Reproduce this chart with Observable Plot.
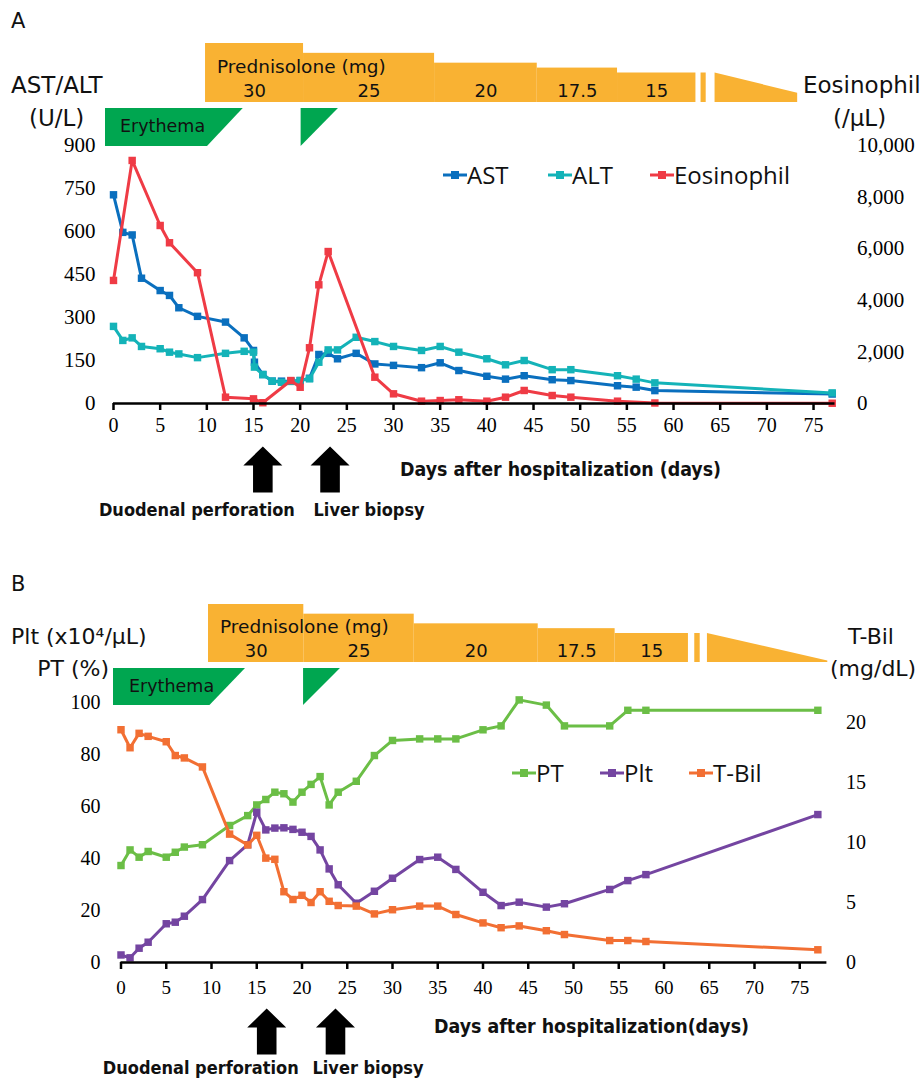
<!DOCTYPE html>
<html>
<head>
<meta charset="utf-8">
<script src="https://cdn.jsdelivr.net/npm/d3@7"></script>
<script src="https://cdn.jsdelivr.net/npm/@observablehq/plot@0.6"></script>
<style>
  body { margin: 0; background: #fff; }
  #page { position: relative; width: 920px; height: 1082px; overflow: hidden; background: #fff; }
  .lbl { position: absolute; white-space: nowrap; line-height: 1; color: #111; }
  .cond { font-family: "DejaVu Sans Condensed", "DejaVu Sans", sans-serif; font-stretch: condensed; }
  .sans { font-family: "DejaVu Sans", sans-serif; }
  .leg { font-family: "Open Sans", "Noto Sans", sans-serif; }
</style>
</head>
<body>
<div id="page"></div>
<script>
// ================= DATA =================
// ---- Panel A ----
const daysA = [0,1,2,3,5,6,7,9,12,14,15,15.1,16,17,18,19,20,21,22,23,24,26,28,30,33,35,37,40,42,44,47,49,54,56,58,77];
const astValues = [728,597,588,437,394,377,334,304,284,229,185,144,101,78,78,78,80,88,171,175,156,175,138,133,125,142,115,95,85,97,83,80,62,57,45,33];
const altValues = [269,220,229,199,191,179,173,160,175,182,179,127,101,78,74,77,80,86,144,187,187,231,216,199,185,199,179,156,135,150,118,118,97,85,72,37];
const daysEos = [0,2,5,6,9,12,15,16,19,20,21,22,23,28,30,33,35,37,40,42,44,47,49,54,58,77];
const eosValues = [4770,9420,6900,6230,5070,245,180,30,890,630,2160,4600,5890,1020,375,90,115,145,90,245,505,310,245,90,20,10];
const astTicks = [0,150,300,450,600,750,900];
const eosTicks = [0,2000,4000,6000,8000,10000];
const eosAxisMax = 10000;   // right axis top, aligned with AST/ALT 900

// ---- Panel B ----
const daysB = [0,1,2,3,5,6,7,9,12,14,15,16,17,18,19,20,21,22,23,24,26,28,30,33,35,37,40,42,44,47,49,54,56,58,77];
const ptValues = [37.3,43.3,40.5,42.7,40.5,42.4,44.4,45.3,52.7,56.5,60.6,62.7,65.5,64.9,61.7,65.5,68.5,71.5,60.6,65.5,69.7,79.6,85.4,86,86,86,89.5,91,101,99,91,91,97,97,97];
const pltValues = [2.9,1.8,5.5,7.8,14.9,15.5,17.8,24.2,39.2,45.3,57.8,51,51.7,51.8,51.2,50.1,48.5,43.3,36,29.9,22.8,27.4,32.4,39.6,40.5,35.8,27,21.9,23.2,21.3,22.6,28.1,31.5,33.8,56.9];
const tbilValues = [19.4,17.9,19.1,18.85,18.4,17.25,17.05,16.3,10.7,9.8,10.6,8.7,8.6,5.9,5.25,5.6,5.0,5.9,5.1,4.75,4.7,4.05,4.4,4.7,4.7,4.0,3.3,2.9,3.05,2.65,2.33,1.83,1.83,1.75,1.06];
const ptTicks = [0,20,40,60,80,100];
const tbilTicks = [0,5,10,15,20];
const tbilAxisMax = 21.67;  // T-Bil value aligned with PT/Plt 100

// ---- Shared annotations ----
const dayTicks = [0,5,10,15,20,25,30,35,40,45,50,55,60,65,70,75];
const predDose = [30, 25, 20, 17.5, 15];
const predStartA = [9.86, 20.36, 34.4, 45.4, 54.0];
const predEndA   = [20.36, 34.4, 45.4, 54.0, 62.4];
const predBreakA = [62.95, 63.5];
const predTaperA = {start: 64.45, end: 73.3, from: 15, to: 4.7};
const predStartB = [9.67, 20.2, 32.4, 46.1, 54.6];
const predEndB   = [20.2, 32.4, 46.1, 54.6, 62.7];
const predBreakB = [63.4, 64.0];
const predTaperB = {start: 64.8, end: 78.1, from: 15, to: 0.8};
const erythemaA = [{start: -0.86, plateauEnd: 10.07, end: 13.9}, {start: 20.1, plateauEnd: 20.1, end: 24.1}];
const erythemaB = [{start: -0.83, plateauEnd: 9.83, end: 13.76}, {start: 20.17, plateauEnd: 20.17, end: 24.25}];
const eventLabels = ["Duodenal perforation", "Liver biopsy"];
const eventDaysA = [16, 23.2];
const eventDaysB = [16.1, 23.7];

// ================= STYLE =================
const C = {
  ast: "#0A6FBE", alt: "#14B3B8", eos: "#EF3B45",
  pt: "#6BBE46", plt: "#7445A1", tbil: "#F26F33",
  pred: "#F9B233", ery: "#00A650"
};
const SERIF = '"Liberation Serif", "Times New Roman", serif';
const COND = '"DejaVu Sans Condensed", "DejaVu Sans", sans-serif';
const SANS = '"DejaVu Sans", sans-serif';
const page = document.getElementById("page");

function place(el, top) {
  el.style.position = "absolute";
  el.style.left = "0px";
  el.style.top = top + "px";
  page.appendChild(el);
}
function label(text, x, cy, size, opts = {}) {
  const d = document.createElement("div");
  d.className = "lbl " + (opts.cls || "sans");
  d.textContent = text;
  d.style.fontSize = size + "px";
  d.style.top = cy + "px";
  if (opts.bold) d.style.fontWeight = "bold";
  if (opts.align === "right") { d.style.right = (920 - x) + "px"; d.style.transform = "translateY(-50%)"; }
  else if (opts.align === "center") { d.style.left = x + "px"; d.style.transform = "translate(-50%,-50%)"; }
  else { d.style.left = x + "px"; d.style.transform = "translateY(-50%)"; }
  page.appendChild(d);
}
function legendItem(text, x, cy, color, swW = 24) {
  const ns = "http://www.w3.org/2000/svg";
  const s = document.createElementNS(ns, "svg");
  s.setAttribute("width", swW); s.setAttribute("height", 12);
  s.style.position = "absolute"; s.style.left = x + "px"; s.style.top = (cy - 6) + "px";
  const l = document.createElementNS(ns, "line");
  l.setAttribute("x1", 0); l.setAttribute("x2", swW); l.setAttribute("y1", 6); l.setAttribute("y2", 6);
  l.setAttribute("stroke", color); l.setAttribute("stroke-width", 3);
  const r = document.createElementNS(ns, "rect");
  r.setAttribute("x", swW / 2 - 4); r.setAttribute("y", 2); r.setAttribute("width", 8); r.setAttribute("height", 8);
  r.setAttribute("fill", color);
  s.appendChild(l); s.appendChild(r);
  page.appendChild(s);
  label(text, x + swW, cy, 24, {cls: "leg"});
}

const arrowUp = {
  draw(ctx) {
    ctx.moveTo(0, 0); ctx.lineTo(19.5, 19); ctx.lineTo(9.8, 19); ctx.lineTo(9.8, 46);
    ctx.lineTo(-9.8, 46); ctx.lineTo(-9.8, 19); ctx.lineTo(-19.5, 19); ctx.closePath();
  }
};

function seriesRows(days, values, scale = 1) {
  return days.map((d, i) => ({day: d, value: values[i] * scale}));
}
function seriesMarks(rows, color) {
  return [
    Plot.line(rows, {x: "day", y: "value", stroke: color, strokeWidth: 3}),
    Plot.dot(rows, {x: "day", y: "value", symbol: "square", r: 4.2, fill: color, stroke: "none"})
  ];
}

// header (prednisolone) plot
function predPlot(starts, ends, brk, taper, xDomain, mL, mR, mTop) {
  const steps = predDose.map((d, i) => ({x1: starts[i], x2: ends[i], dose: d}));
  const lastDose = predDose[predDose.length - 1];
  return Plot.plot({
    width: 920, height: 80,
    marginTop: mTop, marginBottom: 8, marginLeft: mL, marginRight: mR,
    x: {domain: xDomain, axis: null},
    y: {domain: [0, 30], axis: null},
    style: {background: "transparent", overflow: "visible"},
    marks: [
      Plot.rect(steps, {x1: "x1", x2: "x2", y1: 0, y2: "dose", fill: C.pred}),
      Plot.rect([{x1: brk[0], x2: brk[1], dose: lastDose}], {x1: "x1", x2: "x2", y1: 0, y2: "dose", fill: C.pred}),
      Plot.areaY([{x: taper.start, y: taper.from}, {x: taper.end, y: taper.to}], {x: "x", y1: 0, y2: "y", fill: C.pred}),
      Plot.text(steps, {x: d => (d.x1 + d.x2) / 2, y: 0, dy: -11, text: d => String(d.dose),
        fontSize: 18, fontFamily: SANS, fill: "#111", lineAnchor: "middle"})
    ]
  });
}
function eryPlot(episodes, xDomain, mL, mR, mTop, mBottom) {
  const pts = episodes.flatMap((e, i) => [
    {ep: i, x: e.start, lo: 0}, {ep: i, x: e.plateauEnd, lo: 0}, {ep: i, x: e.end, lo: 1}
  ]);
  return Plot.plot({
    width: 920, height: 50,
    marginTop: mTop, marginBottom: mBottom, marginLeft: mL, marginRight: mR,
    x: {domain: xDomain, axis: null},
    y: {domain: [0, 1], axis: null},
    style: {background: "transparent", overflow: "visible"},
    marks: [
      Plot.areaY(pts, {x: "x", y1: "lo", y2: 1, z: "ep", fill: C.ery})
    ]
  });
}
function eventMarks(days, dyArrow, dyText, dx1, dx2) {
  const ev = days.map((d, i) => ({day: d, label: eventLabels[i]}));
  return [
    Plot.dot(ev, {x: "day", y: 0, dy: dyArrow, symbol: arrowUp, fill: "black", stroke: "none"}),
    Plot.text([ev[0]], {x: "day", y: 0, dy: dyText, dx: dx1, text: "label", textAnchor: "end",
      fontFamily: COND, fontWeight: "bold", fontSize: 18, fill: "#111", lineAnchor: "middle"}),
    Plot.text([ev[1]], {x: "day", y: 0, dy: dyText, dx: dx2, text: "label", textAnchor: "start",
      fontFamily: COND, fontWeight: "bold", fontSize: 18, fill: "#111", lineAnchor: "middle"})
  ];
}

// ================= PANEL A =================
const kA = astTicks[astTicks.length - 1] / eosAxisMax;
const xDomA = [0, 77.3];
const mLA = 113, mRA = 85.5;
const plotA = Plot.plot({
  width: 920, height: 540,
  marginTop: 145, marginBottom: 137, marginLeft: mLA, marginRight: mRA,
  x: {domain: xDomA},
  y: {domain: [0, 900]},
  style: {background: "transparent", fontFamily: SERIF, overflow: "visible"},
  marks: [
    Plot.axisY({ticks: astTicks, tickSize: 0, tickPadding: 18, fontSize: 21, fontFamily: SERIF, label: null}),
    Plot.axisY({anchor: "right", ticks: eosTicks.map(v => v * kA), tickFormat: d => d3.format(",")(Math.round(d / kA)),
      tickSize: 0, tickPadding: 22, fontSize: 21, fontFamily: SERIF, label: null}),
    ...seriesMarks(seriesRows(daysA, astValues), C.ast),
    ...seriesMarks(seriesRows(daysA, altValues), C.alt),
    ...seriesMarks(seriesRows(daysEos, eosValues, kA), C.eos),
    Plot.ruleY([0], {stroke: "black", strokeWidth: 2.5}),
    Plot.axisX({ticks: dayTicks, tickSize: 7, tickPadding: 7.5, strokeWidth: 2.5, fontSize: 20, fontFamily: SERIF, label: null}),
    ...eventMarks(eventDaysA, 43, 107, 32, -16.5)
  ]
});
place(plotA, 0);
place(predPlot(predStartA, predEndA, predBreakA, predTaperA, xDomA, mLA, mRA, 13), 30);
place(eryPlot(erythemaA, xDomA, mLA, mRA, 8, 4), 100);

label("A", 11, 21, 21);
label("AST/ALT", 11, 85, 23);
label("(U/L)", 29, 118, 23);
label("Eosinophil", 803, 85, 23);
label("(/μL)", 833, 118, 23);
label("Prednisolone (mg)", 217, 67, 18.5);
label("Erythema", 120, 127, 17.5);
label("Days after hospitalization (days)", 400, 470, 19.4, {bold: true, cls: "cond"});
legendItem("AST", 443, 175, C.ast);
legendItem("ALT", 548, 175, C.alt);
legendItem("Eosinophil", 650, 175, C.eos);

// ================= PANEL B =================
const kB = ptTicks[ptTicks.length - 1] / tbilAxisMax;
const xDomB = [0, 78];
const mLB = 120.5, mRB = 93.6;
const topB = 560;
const plotB = Plot.plot({
  width: 920, height: 522,
  marginTop: 142, marginBottom: 120, marginLeft: mLB, marginRight: mRB,
  x: {domain: xDomB},
  y: {domain: [0, 100]},
  style: {background: "transparent", fontFamily: SERIF, overflow: "visible"},
  marks: [
    Plot.axisY({ticks: ptTicks, tickSize: 0, tickPadding: 20.5, fontSize: 20, fontFamily: SERIF, label: null}),
    Plot.axisY({anchor: "right", ticks: tbilTicks.map(v => v * kB), tickFormat: d => String(Math.round(d / kB)),
      tickSize: 0, tickPadding: 19, fontSize: 20, fontFamily: SERIF, label: null}),
    ...seriesMarks(seriesRows(daysB, ptValues), C.pt),
    ...seriesMarks(seriesRows(daysB, pltValues), C.plt),
    ...seriesMarks(seriesRows(daysB, tbilValues, kB), C.tbil),
    Plot.ruleY([0], {stroke: "black", strokeWidth: 2.5}),
    Plot.axisX({ticks: dayTicks, tickSize: 7, tickPadding: 10.5, strokeWidth: 2.5, fontSize: 19, fontFamily: SERIF, label: null}),
    ...eventMarks(eventDaysB, 46, 106, 32, -23)
  ]
});
place(plotB, topB);
place(predPlot(predStartB, predEndB, predBreakB, predTaperB, xDomB, mLB, mRB, 14), 590);
place(eryPlot(erythemaB, xDomB, mLB, mRB, 8, 5), 660);

label("B", 11, 584, 21);
label("Plt (x10⁴/μL)", 11, 637, 22);
label("PT (%)", 109, 669, 22, {align: "right"});
label("T-Bil", 871, 637, 22, {align: "center"});
label("(mg/dL)", 830, 669, 22);
label("Prednisolone (mg)", 220, 627, 18.5);
label("Erythema", 129, 687, 17.5);
label("Days after hospitalization(days)", 434, 1027, 19.4, {bold: true, cls: "cond"});
legendItem("PT", 512, 773, C.pt);
legendItem("Plt", 600, 773, C.plt);
legendItem("T-Bil", 689, 773, C.tbil);
</script>
</body>
</html>
